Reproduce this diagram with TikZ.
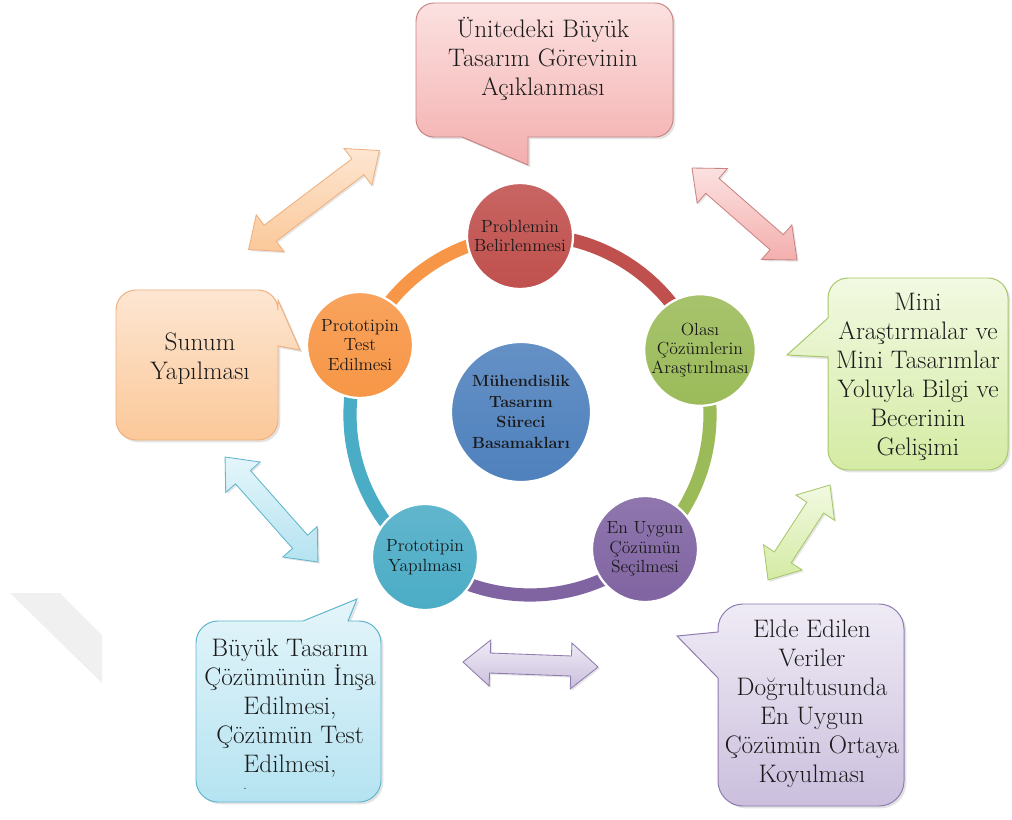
\documentclass[tikz,border=0pt]{standalone}
\usepackage{fontspec}
\usetikzlibrary{shadows,calc}

% theme colours
\definecolor{cRed}{HTML}{C0504D}
\definecolor{cGreen}{HTML}{9BBB59}
\definecolor{cPurple}{HTML}{8064A2}
\definecolor{cTeal}{HTML}{4BACC6}
\definecolor{cOrange}{HTML}{F79646}
\definecolor{cBlue}{HTML}{4F81BD}
\definecolor{pinkTop}{HTML}{FBE1E0}
\definecolor{pinkBot}{HTML}{F3AFAE}
\definecolor{pinkLine}{HTML}{C98584}
\definecolor{greenTop}{HTML}{F2F9E2}
\definecolor{greenBot}{HTML}{D4EBA3}
\definecolor{greenLine}{HTML}{A7C76A}
\definecolor{orangeTop}{HTML}{FDE6D2}
\definecolor{orangeBot}{HTML}{FBC899}
\definecolor{orangeLine}{HTML}{EFB07E}
\definecolor{tealTop}{HTML}{E4F5FA}
\definecolor{tealBot}{HTML}{B5E3F1}
\definecolor{tealLine}{HTML}{5FB6CD}
\definecolor{purpleTop}{HTML}{EFEBF5}
\definecolor{purpleBot}{HTML}{CBBFDD}
\definecolor{purpleLine}{HTML}{8E7BAF}
\definecolor{inkText}{HTML}{1A1A1A}

\tikzset{
  stage/.style={circle, inner sep=0pt, minimum size=2.65cm, draw=white,
    line width=1.6pt, align=center, text=inkText,
    font=\fontsize{12.5}{13.8}\selectfont},
  hub/.style={stage, minimum size=3.5cm, font=\bfseries\fontsize{11.5}{14.6}\selectfont},
  ringarc/.style={line width=0.33cm},
  bubble/.style={line width=0.7pt,
    drop shadow={opacity=0.22, shadow xshift=1.6pt, shadow yshift=-1.6pt}},
  bubbletext/.style={align=center, text=inkText, inner sep=0pt,
    font=\fontsize{18}{20.6}\selectfont},
  blockarrow/.style={line width=0.6pt,
    drop shadow={opacity=0.2, shadow xshift=1.2pt, shadow yshift=-1.2pt}},
}

% double-headed block arrow: style, centre, angle, half length
\newcommand{\dblarrow}[4]{%
  \begin{scope}[shift={(#2)}, rotate=#3]
    \path[blockarrow,#1] (-#4,0) -- (-#4+27,23) -- (-#4+27,10) -- (#4-27,10)
      -- (#4-27,23) -- (#4,0) -- (#4-27,-23) -- (#4-27,-10) -- (-#4+27,-10)
      -- (-#4+27,-23) -- cycle;
  \end{scope}}

\begin{document}
\begin{tikzpicture}[x=0.025cm, y=-0.025cm]
  \fill[white] (0,0) rectangle (1012,820);
  \useasboundingbox (0,0) rectangle (1012,820);

  % faint grey band at the lower left
  \fill[black!6] (10,593) -- (60,593) -- (102,635) -- (102,683) -- cycle;

  % ---- cycle ring ----
  \coordinate (ring) at (530,415);
  \draw[ringarc, cRed]    ([shift={(266.8:180)}]ring) arc[start angle=266.8, end angle=339.1, radius=180];
  \draw[ringarc, cGreen]  ([shift={(339.1:180)}]ring) arc[start angle=339.1, end angle=409.2, radius=180];
  \draw[ringarc, cPurple] ([shift={(49.2:180)}]ring)  arc[start angle=49.2, end angle=126.3, radius=180];
  \draw[ringarc, cTeal]   ([shift={(126.3:180)}]ring) arc[start angle=126.3, end angle=202.4, radius=180];
  \draw[ringarc, cOrange] ([shift={(202.4:180)}]ring) arc[start angle=202.4, end angle=266.8, radius=180];

  % ---- stages ----
  \node[hub, top color=cBlue!88!white, bottom color=cBlue] (hub) at (521,412)
    {Mühendislik\\Tasarım\\Süreci\\Basamakları};
  \node[stage, top color=cRed!88!white, bottom color=cRed] (prob) at (520,236)
    {Problemin\\Belirlenmesi};
  \node[stage, top color=cGreen!88!white, bottom color=cGreen] (olasi) at (700,350)
    {Olası\\Çözümlerin\\Araştırılması};
  \node[stage, top color=cPurple!88!white, bottom color=cPurple] (secim) at (645,549)
    {En Uygun\\Çözümün\\Seçilmesi};
  \node[stage, top color=cTeal!88!white, bottom color=cTeal] (yapim) at (425,557)
    {Prototipin\\Yapılması};
  \node[stage, top color=cOrange!88!white, bottom color=cOrange] (test) at (360,345)
    {Prototipin\\Test\\Edilmesi};

  % ---- callouts ----
  % top (pink)
  \path[bubble, top color=pinkTop, bottom color=pinkBot, draw=pinkLine]
    (416,21) arc[start angle=180, end angle=270, radius=18] -- (655,3)
    arc[start angle=270, end angle=360, radius=18] -- (673,119)
    arc[start angle=0, end angle=90, radius=18] -- (528,137) -- (528,165)
    -- (462,137) -- (434,137) arc[start angle=90, end angle=180, radius=18] -- cycle;
  \node[bubbletext] (unite) at (543,59)
    {Ünitedeki Büyük\\Tasarım Görevinin\\Açıklanması};

  % right (green)
  \path[bubble, top color=greenTop, bottom color=greenBot, draw=greenLine]
    (828,298) arc[start angle=180, end angle=270, radius=20] -- (988,278)
    arc[start angle=270, end angle=360, radius=20] -- (1008,450)
    arc[start angle=0, end angle=90, radius=20] -- (848,470)
    arc[start angle=90, end angle=180, radius=20] -- (828,357) -- (787,355)
    -- (828,318) -- cycle;
  \node[bubbletext] (mini) at (918,377)
    {Mini\\Araştırmalar ve\\Mini Tasarımlar\\Yoluyla Bilgi ve\\Becerinin\\Gelişimi};

  % left (orange)
  \path[bubble, top color=orangeTop, bottom color=orangeBot, draw=orangeLine]
    (116,310) arc[start angle=180, end angle=270, radius=20] -- (258,290)
    arc[start angle=270, end angle=360, radius=20] -- (278,300) -- (300,350)
    -- (278,346) -- (278,420) arc[start angle=0, end angle=90, radius=20]
    -- (136,440) arc[start angle=90, end angle=180, radius=20] -- cycle;
  \node[bubbletext] (sunum) at (200,359) {Sunum\\Yapılması};

  % lower left (blue)
  \path[bubble, top color=tealTop, bottom color=tealBot, draw=tealLine]
    (196,643) arc[start angle=180, end angle=270, radius=22] -- (303,621)
    -- (357,599) -- (348,621) -- (359,621)
    arc[start angle=270, end angle=360, radius=22] -- (381,780)
    arc[start angle=0, end angle=90, radius=22] -- (218,802)
    arc[start angle=90, end angle=180, radius=22] -- cycle;
  \node[bubbletext] (insa) at (290,708)
    {Büyük Tasarım\\Çözümünün İnşa\\Edilmesi,\\Çözümün Test\\Edilmesi,};
  \node[inner sep=0pt, text=inkText, font=\fontsize{8}{8}\selectfont] (insadot) at (245,789) {.};

  % lower right (purple)
  \path[bubble, top color=purpleTop, bottom color=purpleBot, draw=purpleLine]
    (718,629) arc[start angle=180, end angle=270, radius=25] -- (879,604)
    arc[start angle=270, end angle=360, radius=25] -- (904,781)
    arc[start angle=0, end angle=90, radius=25] -- (743,806)
    arc[start angle=90, end angle=180, radius=25] -- (718,678) -- (677,636)
    -- (718,632) -- cycle;
  \node[bubbletext] (elde) at (812,704)
    {Elde Edilen\\Veriler\\Doğrultusunda\\En Uygun\\Çözümün Ortaya\\Koyulması};

  % ---- double arrows ----
  \dblarrow{top color=orangeTop, bottom color=orangeBot, draw=orangeLine}{314,200}{37.1}{82}
  \dblarrow{top color=pinkTop, bottom color=pinkBot, draw=pinkLine}{744.5,214}{-41.2}{69.8}
  \dblarrow{top color=greenTop, bottom color=greenBot, draw=greenLine}{799,532.5}{56.9}{56.7}
  \dblarrow{top color=tealTop, bottom color=tealBot, draw=tealLine}{271.5,509.5}{-48.5}{70.1}
  \dblarrow{top color=purpleTop, bottom color=purpleBot, draw=purpleLine}{530.5,664.5}{-2.1}{67.6}
\end{tikzpicture}
\end{document}
